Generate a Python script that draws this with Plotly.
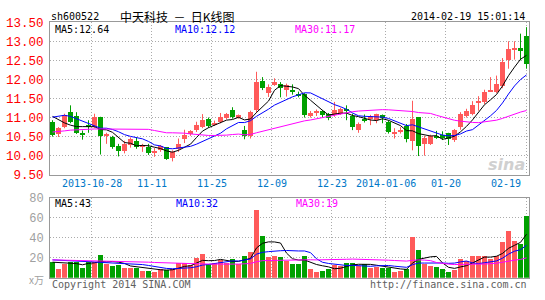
import plotly.graph_objects as go
import pandas as pd
import numpy as np

# ---------------- data ----------------
opens = [10.87,10.56,10.75,11.14,11.03,10.60,10.79,10.75,11.02,10.52,
         10.49,10.24,10.12,10.28,10.38,10.24,10.22,10.07,10.14,10.21,
         9.93,10.16,10.42,10.55,10.67,10.75,10.96,10.82,10.87,10.97,
         11.20,11.00,10.68,10.52,11.18,11.95,11.65,11.85,11.87,11.71,
         11.72,11.62,11.62,11.03,11.13,11.16,11.08,11.06,11.10,11.22,
         11.04,10.68,10.95,10.95,10.92,11.05,10.87,10.58,10.62,10.77,
         10.37,11.00,10.30,10.31,10.50,10.53,10.58,10.40,10.74,11.03,
         11.10,11.39,11.39,11.68,11.67,11.81,12.50,12.77,12.81,13.12]
highs = [10.93,10.75,11.10,11.32,11.14,10.66,10.93,11.10,11.02,10.60,
         10.52,10.31,10.39,10.48,10.48,10.31,10.31,10.20,10.28,10.22,
         10.14,10.45,10.68,10.67,10.89,11.09,11.00,10.92,11.12,11.12,
         11.27,11.08,10.78,11.18,12.20,12.06,11.87,12.03,11.93,11.89,
         11.87,11.68,11.64,11.17,11.21,11.20,11.12,11.41,11.26,11.32,
         11.10,10.87,11.08,11.07,11.10,11.08,10.93,10.72,10.75,10.83,
         11.44,11.00,10.52,10.55,10.65,10.64,10.60,10.70,11.14,11.23,
         11.43,11.56,11.73,12.06,12.10,12.56,13.00,13.00,13.20,13.37]
lows = [10.50,10.49,10.72,10.85,10.57,10.42,10.60,10.72,10.03,10.31,
        10.18,9.98,10.06,10.21,10.18,10.10,10.02,9.97,10.10,9.89,
        9.85,10.10,10.33,10.52,10.62,10.72,10.73,10.78,10.85,10.95,
        10.97,10.97,10.43,10.45,11.12,11.72,11.54,11.83,11.53,11.55,
        11.60,11.53,11.00,11.00,11.04,11.00,10.93,11.02,11.07,10.93,
        10.67,10.60,10.87,10.80,10.85,10.85,10.58,10.45,10.58,10.35,
        10.14,9.99,10.00,10.28,10.44,10.41,10.28,10.36,10.68,11.00,
        11.06,11.18,11.35,11.67,11.64,11.77,12.28,12.52,12.50,12.28]
closes = [10.54,10.71,11.07,10.89,10.60,10.54,10.75,11.02,10.52,10.56,
          10.21,10.12,10.31,10.43,10.22,10.27,10.07,10.12,10.25,9.92,
          10.10,10.31,10.54,10.64,10.79,10.94,10.76,10.86,11.02,11.08,
          11.02,11.05,10.52,11.14,11.93,11.78,11.79,11.93,11.76,11.84,
          11.69,11.57,11.06,11.11,11.15,11.05,10.97,11.18,11.22,11.16,
          10.74,10.82,10.92,11.04,11.08,10.98,10.62,10.62,10.64,10.42,
          10.96,10.25,10.45,10.50,10.46,10.48,10.44,10.67,11.08,11.17,
          11.33,11.43,11.67,11.72,11.87,12.45,12.78,12.79,12.75,12.39]
volumes = [15.9,8.9,13.6,16.2,15.9,9.8,16.2,16.2,23.1,13.6,
           12.0,12.7,9.8,10.5,9.8,7.3,7.3,5.7,9.5,8.2,
           8.9,15.2,14.6,12.7,20.0,24.1,13.6,15.2,18.4,15.2,
           19.0,13.6,22.2,26.3,67.6,42.2,20.6,21.9,21.0,17.4,
           13.6,14.3,22.2,9.5,6.3,7.3,8.9,12.7,12.0,15.2,
           15.2,12.0,13.6,10.5,11.1,9.8,9.8,5.7,7.3,8.9,
           41.2,28.5,13.6,12.0,11.1,8.9,6.3,8.2,19.3,17.4,
           22.5,21.6,22.2,19.3,21.6,36.5,46.9,37.4,34.2,62.1]

# moving-average values before enough history is visible
ma5_head = [11.03, 10.94, 10.86, 10.80]
ma10_head = [11.01, 11.04, 11.06, 11.03, 10.97, 10.90, 10.83, 10.78, 10.72]
ma30_head = [10.62, 10.63, 10.65, 10.67, 10.68, 10.69, 10.69, 10.70, 10.70, 10.70,
             10.70, 10.70, 10.70, 10.70, 10.70, 10.70, 10.69, 10.66, 10.62, 10.60,
             10.60, 10.60, 10.59, 10.57, 10.55, 10.54, 10.53, 10.53, 10.53]
vma5_head = [15.5, 15.2, 14.8, 14.5]
vma10_head = [17.8, 17.6, 17.3, 17.0, 16.7, 16.4, 16.0, 15.7, 15.3]
vma30_head = [17.8, 17.7, 17.6, 17.5, 17.4, 17.3, 17.1, 17.0, 16.9, 16.8,
              16.7, 16.5, 16.3, 16.1, 15.9, 15.7, 15.5, 15.2, 15.0, 14.7,
              14.3, 14.1, 13.9, 13.6, 13.6, 13.6, 13.6, 13.6, 13.5]

date_labels = ["2013-10-28", "11-11", "11-25", "12-09", "12-23", "2014-01-06", "01-20", "02-19"]
price_ticks = [9.5, 10.0, 10.5, 11.0, 11.5, 12.0, 12.5, 13.0, 13.5]
vol_ticks = [20, 40, 60, 80]

title_code = "sh600522"
title_name = "中天科技\u00a0\u00a0－\u00a0\u00a0日K线图"
timestamp = "2014-02-19 15:01:14"
price_legend = ["MA5:12.64", "MA10:12.12", "MA30:11.17"]
vol_legend = ["MA5:43", "MA10:32", "MA30:19"]

# ---------------- layout constants ----------------
W, H = 545, 300
date_grid_pos = [6.5, 16.5, 26.5, 36.5, 46.5, 55.5, 65.5, 79]
date_label_pos = [6.5, 16.5, 26.5, 36.5, 46.5, 55.5, 65.5, 75.6]
RED = "#FF5A5A"
GREEN = "#00A000"
MAC = ["#000000", "#0000FF", "#FF00FF"]
GRID = "#ABABAB"
FRAME = "#999999"


def py(y):
    return 1 - y / H


def ma(values, n, head):
    s = pd.Series(values, dtype=float).rolling(n).mean().to_numpy()
    s[:len(head)] = head
    return s


n = len(closes)
idx = np.arange(n)
O, Hh, L, C = map(np.array, (opens, highs, lows, closes))
up = C >= O

fig = go.Figure()

# candle wicks
for mask, col in ((up, RED), (~up, GREEN)):
    xs, ys = [], []
    for i in idx[mask]:
        xs += [i, i, None]
        ys += [L[i], Hh[i], None]
    fig.add_trace(go.Scatter(x=xs, y=ys, mode="lines", line=dict(color=col, width=1),
                             hoverinfo="skip", showlegend=False, xaxis="x", yaxis="y"))

# candle bodies
body_base = np.minimum(O, C)
body_h = np.maximum(np.abs(C - O), 0.025)
fig.add_trace(go.Bar(x=idx, y=body_h, base=body_base, width=0.8333,
                     marker=dict(color=[RED if u else GREEN for u in up], line=dict(width=0)),
                     showlegend=False, xaxis="x", yaxis="y"))

# price moving averages
for (nn, head), col in zip(((5, ma5_head), (10, ma10_head), (30, ma30_head)), MAC):
    fig.add_trace(go.Scatter(x=idx, y=ma(closes, nn, head), mode="lines",
                             line=dict(color=col, width=1), showlegend=False,
                             xaxis="x", yaxis="y"))

# volume bars
fig.add_trace(go.Bar(x=idx, y=volumes, width=0.8333,
                     marker=dict(color=[RED if u else GREEN for u in up], line=dict(width=0)),
                     showlegend=False, xaxis="x2", yaxis="y2"))
for (nn, head), col in zip(((5, vma5_head), (10, vma10_head), (30, vma30_head)), MAC):
    fig.add_trace(go.Scatter(x=idx, y=ma(volumes, nn, head), mode="lines",
                             line=dict(color=col, width=1), showlegend=False,
                             xaxis="x2", yaxis="y2"))

xdom = [50 / W, 529 / W]
xrange = [-0.4167, 79.4167]
common_x = dict(domain=xdom, range=xrange, tickvals=date_grid_pos, showticklabels=False,
                showgrid=True, gridcolor=GRID, griddash="1px,2px", gridwidth=1,
                zeroline=False, showline=True, linecolor=FRAME, mirror=True, ticks="",
                fixedrange=True)

fig.update_layout(
    width=W, height=H, margin=dict(l=0, r=0, t=0, b=0),
    paper_bgcolor="white", plot_bgcolor="white", bargap=0, barmode="overlay",
    showlegend=False,
    xaxis=dict(**common_x, anchor="y"),
    xaxis2=dict(**common_x, anchor="y2", matches="x"),
    yaxis=dict(domain=[py(177), py(17)], range=[9.5, 13.5], tickvals=price_ticks,
               ticktext=[f"{v:.2f}" for v in price_ticks],
               tickfont=dict(family="Liberation Mono", size=12.5, color="#FF0000"),
               showgrid=True, gridcolor=GRID, griddash="1px,2px", zeroline=False,
               showline=True, linecolor=FRAME, mirror=True,
               ticks="outside", ticklen=3, tickcolor="rgba(0,0,0,0)", anchor="x"),
    yaxis2=dict(domain=[py(285), py(201)], range=[0, 80], tickvals=vol_ticks,
                ticktext=[str(v) for v in vol_ticks],
                tickfont=dict(family="Liberation Mono", size=12, color="#A0A0A0"),
                showgrid=True, gridcolor=GRID, griddash="1px,2px", zeroline=False,
                showline=True, linecolor=FRAME, mirror=True,
                ticks="outside", ticklen=3, tickcolor="rgba(0,0,0,0)", anchor="x2"),
)

ann = []
mono = "DejaVu Sans Mono"
# header
ann.append(dict(x=49 / W, y=py(11), xref="paper", yref="paper", text=title_code,
                xanchor="left", yanchor="middle", showarrow=False,
                font=dict(family=mono, size=10, color="#000000")))
ann.append(dict(x=118 / W, y=py(11), xref="paper", yref="paper", text=title_name,
                xanchor="left", yanchor="middle", showarrow=False,
                font=dict(family="Noto Sans CJK SC", size=12, color="#000000")))
ann.append(dict(x=527 / W, y=py(11), xref="paper", yref="paper", text=timestamp,
                xanchor="right", yanchor="middle", showarrow=False,
                font=dict(family=mono, size=10, color="#000000")))
# legends
for txt, xpx, col in zip(price_legend, [53, 173, 293], MAC):
    ann.append(dict(x=xpx / W, y=py(24.5), xref="paper", yref="paper", text=txt,
                    xanchor="left", yanchor="middle", showarrow=False,
                    font=dict(family=mono, size=10, color=col)))
for txt, xpx, col in zip(vol_legend, [53, 174, 294], MAC):
    ann.append(dict(x=xpx / W, y=py(207), xref="paper", yref="paper", text=txt,
                    xanchor="left", yanchor="middle", showarrow=False,
                    font=dict(family=mono, size=10, color=col)))
# date labels
for txt, xv in zip(date_labels, date_label_pos):
    ann.append(dict(x=xv, y=py(186), xref="x", yref="paper", text=txt,
                    xanchor="center", yanchor="middle", showarrow=False,
                    font=dict(family=mono, size=10, color="#0078C8")))
# unit label and footer
ann.append(dict(x=46 / W, y=py(287), xref="paper", yref="paper", text="x万",
                xanchor="right", yanchor="middle", showarrow=False,
                font=dict(family="Noto Sans CJK SC", size=10, color="#A0A0A0")))
ann.append(dict(x=50 / W, y=py(292.5), xref="paper", yref="paper", text="Copyright 2014 SINA.COM",
                xanchor="left", yanchor="middle", showarrow=False,
                font=dict(family=mono, size=10, color="#606060")))
ann.append(dict(x=529 / W, y=py(292.5), xref="paper", yref="paper", text="http://finance.sina.com.cn",
                xanchor="right", yanchor="middle", showarrow=False,
                font=dict(family=mono, size=10, color="#606060")))
# watermark
ann.append(dict(x=527 / W, y=py(166), xref="paper", yref="paper", text="<b><i>sina</i></b>",
                xanchor="right", yanchor="middle", showarrow=False,
                font=dict(family="DejaVu Sans", size=16, color="#D0D0D0")))
fig.update_layout(annotations=ann)

fig.write_html("out.html")
